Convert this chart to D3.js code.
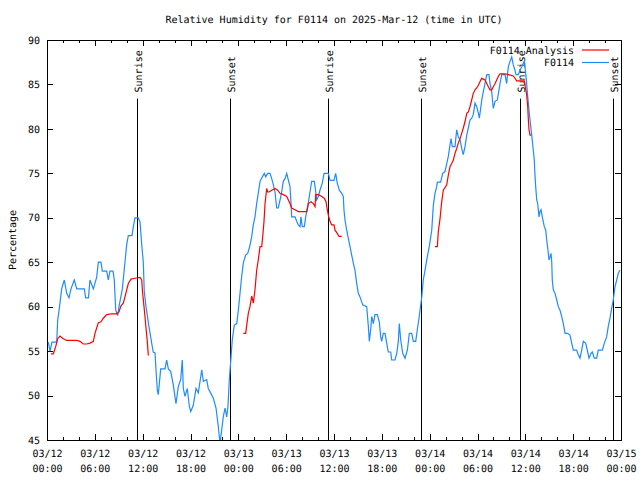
<!DOCTYPE html>
<html>
<head>
<meta charset="utf-8">
<script src="https://cdn.jsdelivr.net/npm/d3@7"></script>
<style>
  html, body { margin: 0; padding: 0; background: #fff; }
  text { font-family: "DejaVu Sans Mono", "Liberation Mono", monospace; font-size: 10px; fill: #000; text-rendering: geometricPrecision; }
</style>
</head>
<body>
<svg id="chart" width="640" height="480"></svg>
<script>
// ---- data (hours after 2025-03-12 00:00 UTC) ----
const titleText = "Relative Humidity for F0114 on 2025-Mar-12 (time in UTC)";
const yLabel = "Percentage";
const seriesNames = ["F0114 Analysis", "F0114"];
const yTicks = [45, 50, 55, 60, 65, 70, 75, 80, 85, 90];

const obsHours = [0.16,0.38,0.63,1.22,1.34,1.5,1.84,2.17,2.47,2.76,3.01,3.42,3.73,4.68,4.85,5.2,5.39,5.81,6.23,6.44,6.77,6.94,7.49,7.69,7.9,8.28,8.44,8.62,8.87,9.03,9.45,9.78,10.0,10.2,10.66,10.83,11.04,11.45,11.67,11.88,12.08,12.2,12.42,12.71,13.13,13.33,13.55,13.67,13.84,13.96,14.17,14.26,14.8,15.01,15.22,15.52,15.84,16.18,16.47,16.77,16.97,17.1,17.31,17.6,17.85,18.03,18.35,18.69,18.98,19.41,19.61,20.03,20.23,20.53,20.86,21.2,21.49,21.7,21.91,22.11,22.33,22.54,22.7,22.87,23.04,23.24,23.49,23.8,24.0,24.21,24.42,24.62,24.92,25.18,25.46,25.68,25.88,26.09,26.3,26.5,26.72,27.01,27.26,27.43,27.68,27.97,28.19,28.39,28.6,28.81,29.01,29.23,29.44,29.64,29.85,30.07,30.27,30.48,30.61,30.69,31.11,31.32,31.52,31.74,31.86,32.02,32.28,32.45,32.7,32.99,33.2,33.53,33.71,33.83,34.03,34.24,34.53,34.75,35.29,35.5,36.0,36.21,36.41,36.67,36.97,37.17,37.25,37.38,37.59,37.79,38.01,38.22,38.42,38.63,38.85,39.05,39.26,39.6,40.1,40.3,40.43,40.6,40.73,40.93,41.14,41.43,41.68,41.86,41.98,42.18,42.4,42.61,42.81,43.11,43.24,43.65,43.87,44.07,44.19,44.37,44.62,44.91,45.2,45.45,45.75,45.95,46.25,46.45,46.63,46.79,47.0,47.2,47.42,47.7,47.95,48.26,48.46,48.67,48.88,48.96,49.38,49.63,49.92,50.14,50.34,50.55,50.68,50.84,51.18,51.39,51.59,51.81,52.02,52.22,52.43,52.65,52.85,53.06,53.27,53.47,53.69,53.9,54.1,54.23,54.4,54.56,54.73,54.94,55.16,55.44,55.57,55.78,55.98,56.2,56.48,56.66,56.82,57.04,57.45,57.66,57.76,57.87,58.08,58.29,58.49,58.7,58.83,59.12,59.33,59.55,59.75,59.87,60.0,60.13,60.26,60.46,60.59,60.8,61.0,61.12,61.21,61.3,61.43,61.55,61.72,61.84,61.97,62.13,62.38,62.56,62.68,62.81,62.97,63.1,63.22,63.31,63.38,63.51,63.72,63.94,64.14,64.35,64.56,64.76,64.98,65.31,65.6,65.82,66.02,66.44,66.64,66.86,67.07,67.27,67.57,67.82,67.99,68.24,68.4,68.65,68.95,69.15,69.66,69.91,70.2,70.4,70.62,70.83,71.03,71.25,71.46,71.66,71.87];
const obsValues = [56,55,56,56,58.5,59.5,62,63,61.5,61,62,63,62,62,61,61,63,62,63.3,65,65,64,64,63,64,64,63,59.6,59,60,62,65,67,68,68,69,70,70,69.5,67,65,61.7,60,58.2,55.9,54.9,54.8,52.9,50.6,50.1,52.1,53,53,54,53,52.7,51.2,49.1,51,51.8,54,50.8,49.9,50.8,48.8,48.2,48.9,50.8,50.3,52.9,51.6,51.8,50.8,50.3,49.7,48.6,46.5,44.6,46.1,47.6,48.6,47.6,48.8,51.8,53.8,56.25,57.9,58.1,59.6,61.5,63.4,64.9,65.8,66,66.9,67.9,69.2,70.1,71.6,72.75,74.1,74.6,75,74.6,75,75,74.4,73.7,72.9,71.1,71.1,72,72.9,74.1,74.4,75,74.25,73.5,71.6,70.1,70.1,69.6,69.2,69,70.1,69,69,70.1,71.25,72.9,74.1,74.1,72.9,72,72.4,73.1,73.9,75,75,74.2,74.2,75,73.9,73.1,72.75,72.4,70.9,69.75,68.6,67.7,66.75,65.8,64.9,64.1,62.6,61.5,61.1,60.2,60,57.9,56.1,57.4,58.9,58.1,59.1,59.1,58.3,56.6,56.1,57,57,55.9,54.9,54.9,54,54,54.75,56.1,58.1,56.25,54.75,54.2,55.1,57,57,56.1,56.1,57.4,58.5,59.6,61,63,64.1,65.6,66.75,68.6,71.4,72.75,73.5,74,74,75,75.2,76.1,76.9,78.2,78.9,78,78,79.9,79.1,78.75,77.8,77.1,78,79.3,80.1,81,81.2,81.6,82.9,82.5,81.8,81.2,82.3,83.4,84.2,85.1,86.1,86.1,85.1,84.2,82.3,83.1,83.25,84.2,85.1,86.1,86.1,85.1,86.1,87,87.6,88.1,87.2,86.6,86.1,86.1,86.6,87,87.4,87.6,86.6,85.5,84,82.1,81,79.3,77.6,76.5,74.8,73.5,72,71.6,70.1,70.7,70.9,70.1,69,68.6,67.5,66.6,65.25,65.6,66,65.1,63,61.9,61.5,60.75,60,59.6,58.9,58.1,57,57,56.8,55.9,55.1,55.1,54.6,54.2,55.1,56.1,55.9,54.9,54.2,54.75,54.9,54.2,54.2,55.1,55.1,55.9,56.6,57.75,58.7,59.8,60.75,62.25,63,63.75,64.1];

const anaHours = [0.5,0.79,1.09,1.34,1.63,2.04,2.47,3.73,4.14,4.55,4.98,5.39,5.81,6.02,6.23,6.44,6.77,7.06,7.49,8.12,8.74,9.03,9.28,9.57,9.78,10.0,10.2,10.54,11.04,11.67,11.88,12.0,12.17,12.29,12.42,12.58,12.71,
  18.0,
  24.62,24.92,25.05,25.25,25.46,25.68,25.88,26.09,26.3,26.5,26.72,26.93,27.06,27.22,27.35,27.56,27.68,27.85,28.19,28.6,28.94,29.23,29.64,30.07,30.48,30.69,31.11,31.52,32.58,32.78,33.12,33.4,33.62,33.71,34.03,34.46,34.78,35.0,35.16,35.29,35.5,35.71,36.0,36.13,36.41,36.63,36.97,
  42.0,
  48.67,48.96,49.08,49.3,49.51,49.71,50.14,50.34,50.55,50.76,50.97,51.18,51.39,51.59,51.81,52.02,52.22,52.43,52.65,52.85,53.06,53.27,53.47,53.69,53.9,54.1,54.31,54.52,54.73,54.94,55.16,55.36,55.57,55.78,55.98,56.2,56.41,56.61,56.82,57.45,57.87,58.49,58.7,58.91,59.87,60.17,60.3,60.37,60.46,60.59,60.71];
const anaValues = [54.7,54.7,55.5,56.4,56.7,56.4,56.2,56.2,56.1,55.8,55.8,55.9,56.1,57,57.6,58.2,58.3,58.7,59.1,59.2,59.2,59.4,60.1,60.4,61.1,61.9,62.6,63.1,63.2,63.3,63,61.5,60,58.9,57.6,56.1,54.5,
  null,
  57,57,57.9,59.25,60,61.2,60.4,61.9,64.1,65.25,66.75,66.75,67.9,69.6,71.6,73.3,72.9,72.9,73.1,73.3,73.1,72.75,72.6,72.4,71.6,71.1,70.9,70.7,70.7,71.6,71.8,71.6,71.25,72.6,72.6,72.4,72.2,71.8,70.9,70.3,69.6,69.2,69.2,68.6,68.25,67.9,67.9,
  null,
  66.75,66.75,68.4,69.9,71.8,73.1,73.7,74.8,75.75,76.1,76.5,77.25,77.8,78.4,78.9,79.5,80.1,80.8,81.75,81.9,82.5,83.25,84,84.4,84.6,84.9,85.3,85.7,85.6,85.5,85.1,84.75,84.4,84.4,84.75,85.1,85.5,85.9,86.2,86.2,86.1,85.95,85.7,85.4,85.4,83.8,82.5,81.2,79.9,79.3,79.3];

const sunHours = [11.33, 22.99, 35.29, 46.95, 59.37, 71.04];
const sunLabels = ["Sunrise", "Sunset", "Sunrise", "Sunset", "Sunrise", "Sunset"];
const sunLineTop = 83.4;   // value where marker lines start
const sunLabelEnd = 84.1;  // value where marker labels start (reading upward)

// ---- layout ----
const W = 640, H = 480;
const M = { left: 47, right: 621, top: 40, bottom: 440 };
const t0 = Date.UTC(2025, 2, 12, 0, 0);
const t1 = Date.UTC(2025, 2, 15, 0, 0);
const toDate = h => new Date(t0 + h * 3600 * 1000);

const svg = d3.select("#chart");
svg.append("rect").attr("width", W).attr("height", H).attr("fill", "#fff");

const x = d3.scaleUtc().domain([new Date(t0), new Date(t1)]).range([M.left, M.right]);
const y = d3.scaleLinear().domain([45, 90]).range([M.bottom, M.top]);

svg.append("defs").append("clipPath").attr("id", "plotclip")
  .append("rect").attr("x", M.left).attr("y", M.top)
  .attr("width", M.right - M.left).attr("height", M.bottom - M.top);

const majorTicks = d3.utcHour.every(6).range(new Date(t0), new Date(t1 + 1));
const minorTicks = d3.utcHour.every(2).range(new Date(t0), new Date(t1 + 1));
const fmtDate = d3.utcFormat("%m/%d");
const fmtTime = d3.utcFormat("%H:%M");

function styleAxis(g) {
  g.select(".domain").remove();
  g.selectAll(".tick line").attr("stroke", "#000").attr("shape-rendering", "crispEdges");
  g.selectAll("text").attr("font-family", null).attr("font-size", null);
}

// bottom axes
svg.append("g").attr("transform", `translate(0,${M.bottom})`)
  .call(d3.axisBottom(x).tickValues(minorTicks).tickSizeInner(-3).tickSizeOuter(0).tickFormat(""))
  .call(styleAxis);
const bottomMajor = svg.append("g").attr("transform", `translate(0,${M.bottom})`)
  .call(d3.axisBottom(x).tickValues(majorTicks).tickSizeInner(-6).tickSizeOuter(0).tickPadding(8).tickFormat(""))
  .call(styleAxis);
bottomMajor.selectAll(".tick text").each(function(d) {
  const t = d3.select(this);
  t.text(null).attr("y", 0).attr("dy", null);
  t.append("tspan").attr("x", 0).attr("y", 17).text(fmtDate(d));
  t.append("tspan").attr("x", 0).attr("y", 32).text(fmtTime(d));
});

// top axes (mirror)
svg.append("g").attr("transform", `translate(0,${M.top})`)
  .call(d3.axisTop(x).tickValues(minorTicks).tickSizeInner(-3).tickSizeOuter(0).tickFormat(""))
  .call(styleAxis);
svg.append("g").attr("transform", `translate(0,${M.top})`)
  .call(d3.axisTop(x).tickValues(majorTicks).tickSizeInner(-6).tickSizeOuter(0).tickFormat(""))
  .call(styleAxis);

// left / right axes
svg.append("g").attr("transform", `translate(${M.left},0)`)
  .call(d3.axisLeft(y).tickValues(yTicks).tickSizeInner(-6).tickSizeOuter(0).tickPadding(7).tickFormat(d3.format("d")))
  .call(styleAxis);
svg.append("g").attr("transform", `translate(${M.right},0)`)
  .call(d3.axisRight(y).tickValues(yTicks).tickSizeInner(-6).tickSizeOuter(0).tickFormat(""))
  .call(styleAxis);

// frame
svg.append("rect").attr("x", M.left).attr("y", M.top)
  .attr("width", M.right - M.left).attr("height", M.bottom - M.top)
  .attr("fill", "none").attr("stroke", "#000").attr("shape-rendering", "crispEdges");

// sunrise / sunset markers
const sun = svg.append("g");
sunHours.forEach((h, i) => {
  const xx = Math.round(x(toDate(h))) + 0.5;
  sun.append("line").attr("x1", xx).attr("x2", xx)
    .attr("y1", y(sunLineTop)).attr("y2", M.bottom)
    .attr("stroke", "#000").attr("stroke-width", 1);
  sun.append("text")
    .attr("transform", `translate(${xx},${y(sunLabelEnd)}) rotate(-90)`)
    .attr("text-anchor", "start").attr("dy", "0.4em")
    .text(sunLabels[i]);
});

// series
const line = d3.line()
  .defined(d => d[1] !== null)
  .x(d => x(toDate(d[0])))
  .y(d => y(d[1]));

const plot = svg.append("g").attr("clip-path", "url(#plotclip)");
plot.append("path")
  .datum(obsHours.map((h, i) => [h, obsValues[i]]))
  .attr("d", line).attr("fill", "none")
  .attr("stroke", "#1e8cff").attr("stroke-width", 1.2);
plot.append("path")
  .datum(anaHours.map((h, i) => [h, anaValues[i]]))
  .attr("d", line).attr("fill", "none")
  .attr("stroke", "#ff0000").attr("stroke-width", 1.2);

// legend
const legend = svg.append("g");
const legendColors = ["#ff0000", "#1e8cff"];
seriesNames.forEach((name, i) => {
  const yy = 50 + i * 12.5;
  legend.append("text").attr("x", 574).attr("y", yy).attr("dy", "0.35em")
    .attr("text-anchor", "end").text(name);
  legend.append("line").attr("x1", 582).attr("x2", 609)
    .attr("y1", yy).attr("y2", yy)
    .attr("stroke", legendColors[i]).attr("stroke-width", 1.2);
});

// title and y label
svg.append("text").attr("x", (M.left + M.right) / 2).attr("y", 19)
  .attr("dy", "0.35em").attr("text-anchor", "middle").text(titleText);
svg.append("text")
  .attr("transform", `translate(12,${(M.top + M.bottom) / 2}) rotate(-90)`)
  .attr("text-anchor", "middle").attr("dy", "0.35em").text(yLabel);
</script>
</body>
</html>
